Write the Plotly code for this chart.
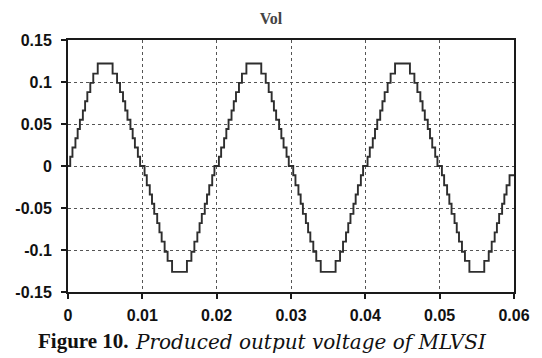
import plotly.graph_objects as go

# Output voltage of the multilevel inverter, one point per switching step
# (each value holds until the next time stamp).
time_s = [
    # cycle 1, positive half
    0.0000, 0.0003, 0.0006, 0.0010, 0.0013, 0.0016, 0.0020, 0.0023, 0.0026,
    0.0030, 0.0034, 0.0040, 0.0060, 0.0066, 0.0070, 0.0074, 0.0077, 0.0080,
    0.0084, 0.0087, 0.0090, 0.0094, 0.0097,
    # cycle 1, negative half
    0.0103, 0.0106, 0.0110, 0.0113, 0.0116, 0.0120, 0.0123, 0.0126, 0.0130,
    0.0134, 0.0140, 0.0160, 0.0166, 0.0170, 0.0174, 0.0177, 0.0180, 0.0184,
    0.0187, 0.0190, 0.0194, 0.0197,
    # cycle 2, positive half
    0.0203, 0.0206, 0.0210, 0.0213, 0.0216, 0.0220, 0.0223, 0.0226, 0.0230,
    0.0234, 0.0240, 0.0260, 0.0266, 0.0270, 0.0274, 0.0277, 0.0280, 0.0284,
    0.0287, 0.0290, 0.0294, 0.0297,
    # cycle 2, negative half
    0.0303, 0.0306, 0.0310, 0.0313, 0.0316, 0.0320, 0.0323, 0.0326, 0.0330,
    0.0334, 0.0340, 0.0360, 0.0366, 0.0370, 0.0374, 0.0377, 0.0380, 0.0384,
    0.0387, 0.0390, 0.0394, 0.0397,
    # cycle 3, positive half
    0.0403, 0.0406, 0.0410, 0.0413, 0.0416, 0.0420, 0.0423, 0.0426, 0.0430,
    0.0434, 0.0440, 0.0460, 0.0466, 0.0470, 0.0474, 0.0477, 0.0480, 0.0484,
    0.0487, 0.0490, 0.0494, 0.0497,
    # cycle 3, negative half
    0.0503, 0.0506, 0.0510, 0.0513, 0.0516, 0.0520, 0.0523, 0.0526, 0.0530,
    0.0534, 0.0540, 0.0560, 0.0566, 0.0570, 0.0574, 0.0577, 0.0580, 0.0584,
    0.0587, 0.0590, 0.0594, 0.0600,
]
vol = [
    # cycle 1, positive half
    0.000, 0.011, 0.022, 0.033, 0.044, 0.055, 0.066, 0.077, 0.088,
    0.099, 0.110, 0.122, 0.110, 0.099, 0.088, 0.077, 0.066, 0.055,
    0.044, 0.033, 0.022, 0.011, 0.000,
    # cycle 1, negative half
    -0.011, -0.023, -0.034, -0.045, -0.057, -0.068, -0.079, -0.090, -0.102,
    -0.113, -0.126, -0.113, -0.102, -0.090, -0.079, -0.068, -0.057, -0.045,
    -0.034, -0.023, -0.011, 0.000,
    # cycle 2, positive half
    0.011, 0.022, 0.033, 0.044, 0.055, 0.066, 0.077, 0.088, 0.099,
    0.110, 0.122, 0.110, 0.099, 0.088, 0.077, 0.066, 0.055, 0.044,
    0.033, 0.022, 0.011, 0.000,
    # cycle 2, negative half
    -0.011, -0.023, -0.034, -0.045, -0.057, -0.068, -0.079, -0.090, -0.102,
    -0.113, -0.126, -0.113, -0.102, -0.090, -0.079, -0.068, -0.057, -0.045,
    -0.034, -0.023, -0.011, 0.000,
    # cycle 3, positive half
    0.011, 0.022, 0.033, 0.044, 0.055, 0.066, 0.077, 0.088, 0.099,
    0.110, 0.122, 0.110, 0.099, 0.088, 0.077, 0.066, 0.055, 0.044,
    0.033, 0.022, 0.011, 0.000,
    # cycle 3, negative half
    -0.011, -0.023, -0.034, -0.045, -0.057, -0.068, -0.079, -0.090, -0.102,
    -0.113, -0.126, -0.113, -0.102, -0.090, -0.079, -0.068, -0.057, -0.045,
    -0.034, -0.023, -0.011, -0.011,
]

x_ticks = [0, 0.01, 0.02, 0.03, 0.04, 0.05, 0.06]
x_tick_text = ["0", "0.01", "0.02", "0.03", "0.04", "0.05", "0.06"]
y_ticks = [-0.15, -0.1, -0.05, 0, 0.05, 0.1, 0.15]
y_tick_text = ["-0.15", "-0.1", "-0.05", "0", "0.05", "0.1", "0.15"]

tick_font = dict(family="Liberation Sans, Arial, sans-serif", size=16,
                 color="#111111", weight="bold")

fig = go.Figure()
fig.add_trace(go.Scatter(
    x=time_s, y=vol, mode="lines", line_shape="hv",
    line=dict(color="#2e2e2e", width=1.9), showlegend=False,
))

axis_common = dict(
    showline=True, linecolor="#1a1a1a", linewidth=2, mirror=True,
    showgrid=True, gridcolor="#555555", gridwidth=1, griddash="dot",
    ticks="outside", ticklen=5, tickwidth=1.5, tickcolor="#1a1a1a",
    zeroline=False, tickfont=tick_font,
)

fig.update_xaxes(range=[0, 0.06], tickvals=x_ticks, ticktext=x_tick_text,
                 ticklabelstandoff=3, **axis_common)
fig.update_yaxes(range=[-0.15, 0.15], tickvals=y_ticks, ticktext=y_tick_text,
                 ticklabelstandoff=6, **axis_common)

# plot area spans x 68..524 px and y 40..292 px
def px_x(px):
    return (px - 68) / 456


def px_y(py):
    return (292 - py) / 252


fig.update_layout(
    width=542, height=358,
    margin=dict(l=68, r=18, t=40, b=66),
    paper_bgcolor="white", plot_bgcolor="white",
    title=dict(text="Vol", x=0.5, xanchor="center", y=1 - 18 / 358,
               yanchor="middle",
               font=dict(family="Liberation Serif, Times New Roman, serif",
                         size=16, color="#444444", weight="bold")),
    annotations=[
        dict(text="<b>Figure 10.</b>", xref="paper", yref="paper",
             x=px_x(35), y=px_y(341), xanchor="left", yanchor="middle",
             showarrow=False,
             font=dict(family="Liberation Serif, Times New Roman, serif",
                       size=21, color="#111111")),
        dict(text="<i>Produced output voltage of MLVSI</i>", xref="paper",
             yref="paper", x=px_x(134), y=px_y(342), xanchor="left",
             yanchor="middle", showarrow=False,
             font=dict(family="DejaVu Serif, serif", size=20,
                       color="#111111")),
    ],
)

fig.write_html("out.html")
